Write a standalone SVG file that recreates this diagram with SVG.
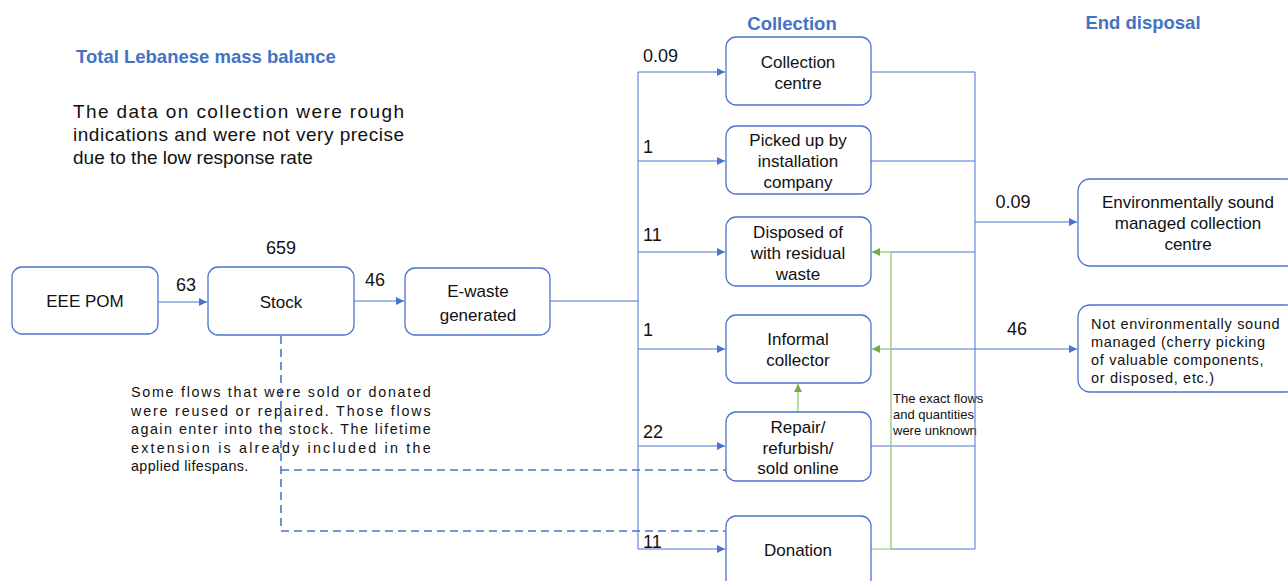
<svg xmlns="http://www.w3.org/2000/svg" width="1288" height="581" viewBox="0 0 1288 581">
  <style>
    .box { fill: #ffffff; stroke: #4a74d0; stroke-width: 1.3; }
    .lbl { font-family: "Liberation Sans", Arial, sans-serif; font-size: 17px; fill: #111111; text-anchor: middle; }
    .num { font-family: "Liberation Sans", Arial, sans-serif; font-size: 18px; fill: #111111; }
    .head { font-family: "Liberation Sans", Arial, sans-serif; font-weight: bold; fill: #4472c4; }
    .para { font-family: "Liberation Sans", Arial, sans-serif; font-size: 19px; fill: #111111; }
    .note { font-family: "Liberation Sans", Arial, sans-serif; font-size: 14.3px; fill: #111111; letter-spacing: 0.4px; }
    .small { font-family: "Liberation Sans", Arial, sans-serif; font-size: 13px; fill: #111111; }
    .flow { fill: none; stroke: #4a74d0; stroke-width: 1; }
    .green { fill: none; stroke: #8cc46a; stroke-width: 1.2; }
    .dash { fill: none; stroke: #4a74d0; stroke-width: 1.6; stroke-dasharray: 8 5; }
  </style>
  <defs>
    <marker id="ab" viewBox="0 0 10 10" refX="10" refY="5" markerWidth="8" markerHeight="8" markerUnits="userSpaceOnUse" orient="auto">
      <path d="M0,0 L10,5 L0,10 z" fill="#4a74d0"/>
    </marker>
    <marker id="ag" viewBox="0 0 10 10" refX="10" refY="5" markerWidth="8" markerHeight="8" markerUnits="userSpaceOnUse" orient="auto">
      <path d="M0,0 L10,5 L0,10 z" fill="#70ad47"/>
    </marker>
  </defs>

  <rect width="1288" height="581" fill="#ffffff"/>

  <!-- headings and notes -->
  <text class="head" x="76" y="63" font-size="18.5">Total Lebanese mass balance</text>
  <text class="head" x="792" y="30" font-size="18.5" text-anchor="middle">Collection</text>
  <text class="head" x="1143" y="29" font-size="18.5" text-anchor="middle">End disposal</text>

  <text class="para" x="73" y="118" textLength="331" lengthAdjust="spacing">The data on collection were rough</text>
  <text class="para" x="73" y="141" textLength="331" lengthAdjust="spacing">indications and were not very precise</text>
  <text class="para" x="73" y="164">due to the low response rate</text>

  <text class="note" x="131" y="397" textLength="300" lengthAdjust="spacing">Some flows that were sold or donated</text>
  <text class="note" x="131" y="416" textLength="300" lengthAdjust="spacing">were reused or repaired. Those flows</text>
  <text class="note" x="131" y="434" textLength="300" lengthAdjust="spacing">again enter into the stock. The lifetime</text>
  <text class="note" x="131" y="453" textLength="300" lengthAdjust="spacing">extension is already included in the</text>
  <text class="note" x="131" y="471">applied lifespans.</text>

  <text class="small" x="893" y="403">The exact flows</text>
  <text class="small" x="893" y="419">and quantities</text>
  <text class="small" x="893" y="435">were unknown</text>

  <!-- connectors -->
  <g id="connectors">
    <path class="flow" d="M158,302 H207" marker-end="url(#ab)"/>
    <path class="flow" d="M354,301 H404" marker-end="url(#ab)"/>
    <path class="flow" d="M550,301 H638"/>
    <path class="flow" d="M638,72 V549"/>
    <path class="flow" d="M638,72 H725" marker-end="url(#ab)"/>
    <path class="flow" d="M638,161 H725" marker-end="url(#ab)"/>
    <path class="flow" d="M638,252 H725" marker-end="url(#ab)"/>
    <path class="flow" d="M638,349 H725" marker-end="url(#ab)"/>
    <path class="flow" d="M638,446 H725" marker-end="url(#ab)"/>
    <path class="flow" d="M638,549 H725" marker-end="url(#ab)"/>

    <path class="flow" d="M871,72 H975 V549"/>
    <path class="flow" d="M871,161 H975"/>
    <path class="flow" d="M891,252 H975"/>
    <path class="flow" d="M891,349 H975"/>
    <path class="flow" d="M871,446 H975"/>
    <path class="flow" d="M891,549 H975"/>
    <path class="flow" d="M975,222 H1077" marker-end="url(#ab)"/>
    <path class="flow" d="M975,349 H1077" marker-end="url(#ab)"/>

    <path class="green" d="M871,549 H891 V252"/>
    <path class="green" d="M891,252 H872" marker-end="url(#ag)"/>
    <path class="green" d="M891,349 H872" marker-end="url(#ag)"/>
    <path class="green" d="M798,412 V384" marker-end="url(#ag)"/>

    <path class="dash" d="M281,336 V531 H726"/>
    <path class="dash" d="M281,470 H726"/>

    <text class="num" x="186" y="291" text-anchor="middle">63</text>
    <text class="num" x="375" y="286" text-anchor="middle">46</text>
    <text class="num" x="643" y="62">0.09</text>
    <text class="num" x="643" y="153">1</text>
    <text class="num" x="643" y="241">11</text>
    <text class="num" x="643" y="336">1</text>
    <text class="num" x="643" y="438">22</text>
    <text class="num" x="643" y="548">11</text>
    <text class="num" x="1013" y="208" text-anchor="middle">0.09</text>
    <text class="num" x="1017" y="335" text-anchor="middle">46</text>
  </g>

  <!-- nodes -->
  <g id="eee-pom">
    <rect class="box" x="12" y="267" width="146" height="67" rx="10"/>
    <text class="lbl" x="85" y="307">EEE POM</text>
  </g>
  <g id="stock">
    <rect class="box" x="208" y="267" width="146" height="68" rx="10"/>
    <text class="num" x="281" y="254" text-anchor="middle">659</text>
    <text class="lbl" x="281" y="308">Stock</text>
  </g>
  <g id="e-waste">
    <rect class="box" x="405" y="268" width="145" height="67" rx="10"/>
    <text class="lbl" x="478" y="297">E-waste</text>
    <text class="lbl" x="478" y="321">generated</text>
  </g>
  <g id="collection-centre">
    <rect class="box" x="726" y="37" width="145" height="68" rx="10"/>
    <text class="lbl" x="798" y="68">Collection</text>
    <text class="lbl" x="798" y="89">centre</text>
  </g>
  <g id="picked-up">
    <rect class="box" x="726" y="126" width="145" height="68" rx="10"/>
    <text class="lbl" x="798" y="146">Picked up by</text>
    <text class="lbl" x="798" y="167">installation</text>
    <text class="lbl" x="798" y="188">company</text>
  </g>
  <g id="residual-waste">
    <rect class="box" x="726" y="217" width="145" height="69" rx="10"/>
    <text class="lbl" x="798" y="238">Disposed of</text>
    <text class="lbl" x="798" y="259">with residual</text>
    <text class="lbl" x="798" y="280">waste</text>
  </g>
  <g id="informal-collector">
    <rect class="box" x="726" y="315" width="145" height="68" rx="10"/>
    <text class="lbl" x="798" y="345">Informal</text>
    <text class="lbl" x="798" y="366">collector</text>
  </g>
  <g id="repair">
    <rect class="box" x="726" y="412" width="145" height="69" rx="10"/>
    <text class="lbl" x="798" y="433">Repair/</text>
    <text class="lbl" x="798" y="454">refurbish/</text>
    <text class="lbl" x="798" y="474">sold online</text>
  </g>
  <g id="donation">
    <rect class="box" x="726" y="516" width="145" height="75" rx="10"/>
    <text class="lbl" x="798" y="556">Donation</text>
  </g>
  <g id="esm-collection">
    <rect class="box" x="1078" y="179" width="220" height="87" rx="12"/>
    <text class="lbl" x="1188" y="208">Environmentally sound</text>
    <text class="lbl" x="1188" y="229">managed collection</text>
    <text class="lbl" x="1188" y="250">centre</text>
  </g>
  <g id="not-esm">
    <rect class="box" x="1078" y="305" width="220" height="87" rx="12"/>
    <text class="note" x="1091" y="329" style="font-size:14.5px;letter-spacing:0.7px">Not environmentally sound</text>
    <text class="note" x="1091" y="347" style="font-size:14.5px;letter-spacing:0.7px">managed (cherry picking</text>
    <text class="note" x="1091" y="365" style="font-size:14.5px;letter-spacing:0.7px">of valuable components,</text>
    <text class="note" x="1091" y="383" style="font-size:14.5px;letter-spacing:0.7px">or disposed, etc.)</text>
  </g>
</svg>
